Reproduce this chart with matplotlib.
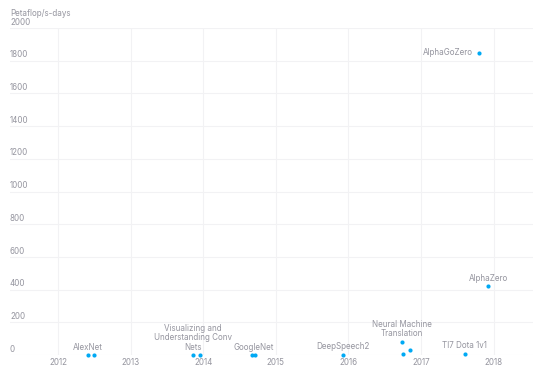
import matplotlib
matplotlib.use("Agg")
import matplotlib.pyplot as plt
import matplotlib.transforms as mtransforms

plt.rcParams['font.family'] = ['Inter', 'DejaVu Sans']

# Data (year as decimal, petaflop/s-days)
point_years = [2012.41, 2012.50, 2013.86, 2013.96, 2014.67, 2014.71, 2015.93,
               2016.73, 2016.755, 2016.84, 2017.60, 2017.79, 2017.92]
point_values = [0.006, 0.003, 0.006, 0.004, 0.018, 0.01, 0.26,
                81, 8, 32, 8, 1850, 420]

label_names = ["AlexNet", "Visualizing and\nUnderstanding Conv\nNets", "GoogleNet",
               "DeepSpeech2", "Neural Machine\nTranslation", "TI7 Dota 1v1",
               "AlphaGoZero", "AlphaZero"]
label_years = [2012.41, 2013.86, 2014.69, 2015.93, 2016.73, 2017.60, 2017.79, 2017.92]
label_values = [0.006, 0.006, 0.018, 0.26, 81, 8, 1850, 420]
label_pos = ["above", "above", "above", "above", "above", "above", "left", "above"]

year_ticks = [2012, 2013, 2014, 2015, 2016, 2017, 2018]
value_ticks = [0, 200, 400, 600, 800, 1000, 1200, 1400, 1600, 1800, 2000]
y_title = "Petaflop/s-days"

text_color = "#95959f"
dot_color = "#00a9f4"
grid_color = "#f2f2f4"
fs = 5.8

fig = plt.figure(figsize=(5.53, 3.72), dpi=100)
ax = fig.add_axes([10/553, 1-355/372, (533-10)/553, (355-28)/372])
ax.set_xlim(2011.34, 2018.54)
ax.set_ylim(0, 2000)

for s in ax.spines.values():
    s.set_visible(False)

ax.set_xticks(year_ticks)
ax.set_xticklabels([str(y) for y in year_ticks])
ax.set_yticks(value_ticks)
ax.set_yticklabels([])
ax.tick_params(axis='both', length=0, labelsize=fs, colors=text_color)
ax.tick_params(axis='x', pad=2.5)
ax.grid(True, color=grid_color, linewidth=0.8)
ax.set_axisbelow(True)

trans = mtransforms.blended_transform_factory(ax.transAxes, ax.transData)
for v in value_ticks:
    ax.annotate(str(v), xy=(0, v), xycoords=trans, xytext=(0, 1),
                textcoords='offset points', ha='left', va='bottom',
                fontsize=fs, color=text_color)

fig.text(10/553, 1-13/372, y_title, ha='left', va='center', fontsize=fs,
         color=text_color)

ax.scatter(point_years, point_values, s=9, color=dot_color, zorder=3,
           linewidths=0, clip_on=False)

for name, x, y, pos in zip(label_names, label_years, label_values, label_pos):
    if pos == "left":
        ax.annotate(name, xy=(x, y), xytext=(-4, 0), textcoords='offset points',
                    ha='right', va='center', fontsize=fs, color=text_color,
                    linespacing=1.05)
    else:
        ax.annotate(name, xy=(x, y), xytext=(0, 2.5), textcoords='offset points',
                    ha='center', va='bottom', fontsize=fs, color=text_color,
                    linespacing=1.05)

fig.savefig("out.png", dpi=100)
